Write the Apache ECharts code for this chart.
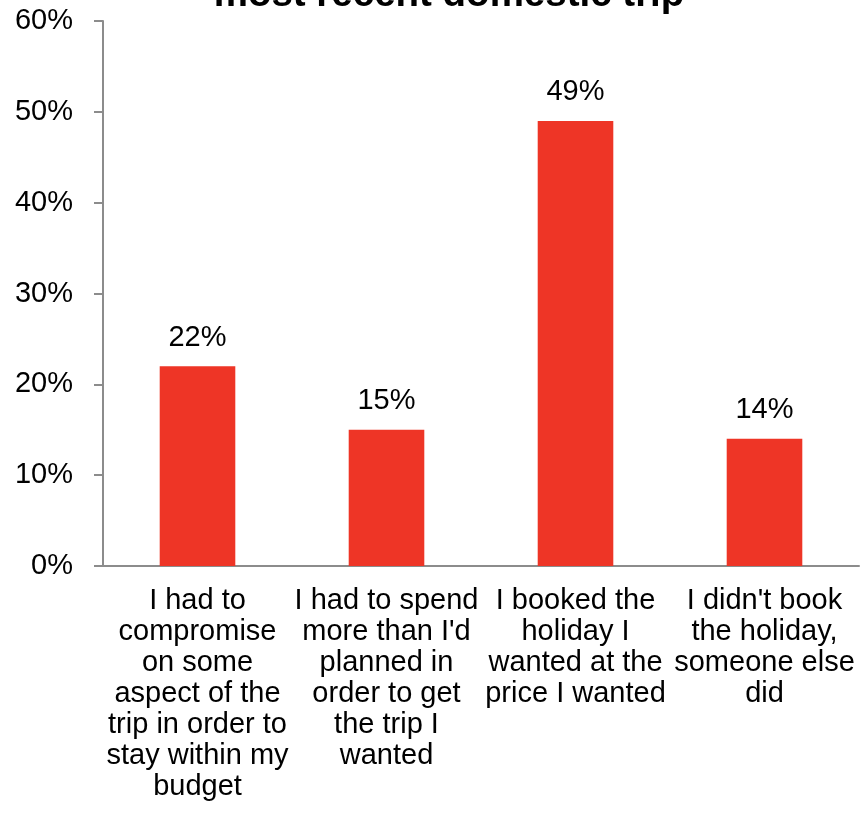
<!DOCTYPE html>
<html>
<head>
<meta charset="utf-8">
<script src="https://cdn.jsdelivr.net/npm/echarts@6/dist/echarts.min.js"></script>
<style>
  html, body { margin: 0; padding: 0; background: #fff; }
  #chart { width: 861px; height: 814px; }
</style>
</head>
<body>
<div id="chart"></div>
<script>
// Survey answers about booking the most recent domestic trip
const categories = [
  "I had to compromise on some aspect of the trip in order to stay within my budget",
  "I had to spend more than I'd planned in order to get the trip I wanted",
  "I booked the holiday I wanted at the price I wanted",
  "I didn't book the holiday, someone else did"
];
const shares = [22, 15, 49, 14];
const titleText = "most recent domestic trip";

const font = '"Liberation Sans", Arial, sans-serif';
const labelSize = 29;
const axisGrey = '#8c8c8c';

// Word-wrap a category name into centred lines no wider than maxWidth
const measureCtx = document.createElement('canvas').getContext('2d');
measureCtx.font = labelSize + 'px ' + font;
function wrapWords(text, maxWidth) {
  const lines = [];
  let line = '';
  text.split(' ').forEach(word => {
    const candidate = line ? line + ' ' + word : word;
    if (line && measureCtx.measureText(candidate).width > maxWidth) {
      lines.push(line);
      line = word;
    } else {
      line = candidate;
    }
  });
  if (line) lines.push(line);
  return lines.join('\n');
}

const chart = echarts.init(document.getElementById('chart'));

chart.setOption({
  animation: false,
  backgroundColor: '#ffffff',
  title: {
    text: titleText,
    left: 444,
    textAlign: 'center',
    top: -29,
    textStyle: { fontFamily: font, fontSize: 38.5, fontWeight: 'bold', color: '#000' }
  },
  grid: { left: 103, right: 2, top: 21, bottom: 248, containLabel: false },
  xAxis: {
    type: 'category',
    data: categories,
    axisLine: { lineStyle: { color: axisGrey, width: 2 } },
    axisTick: { length: 8, lineStyle: { color: axisGrey, width: 2 } },
    axisLabel: {
      interval: 0,
      margin: 19,
      lineHeight: 31,
      fontFamily: font,
      fontSize: labelSize,
      color: '#000',
      align: 'center',
      formatter: v => wrapWords(v, 188)
    }
  },
  yAxis: {
    type: 'value',
    min: 0,
    max: 60,
    interval: 10,
    splitLine: { show: false },
    axisLine: { show: true, lineStyle: { color: axisGrey, width: 2 } },
    axisTick: { show: true, length: 9, lineStyle: { color: axisGrey, width: 2 } },
    axisLabel: {
      margin: 30,
      fontFamily: font,
      fontSize: labelSize,
      color: '#000',
      formatter: v => v + '%'
    }
  },
  series: [{
    type: 'bar',
    data: shares,
    barWidth: '40%',
    itemStyle: { color: '#EE3526' },
    label: {
      show: true,
      position: 'top',
      distance: 14,
      fontFamily: font,
      fontSize: labelSize,
      color: '#000',
      formatter: p => p.value + '%'
    }
  }]
});
</script>
</body>
</html>
